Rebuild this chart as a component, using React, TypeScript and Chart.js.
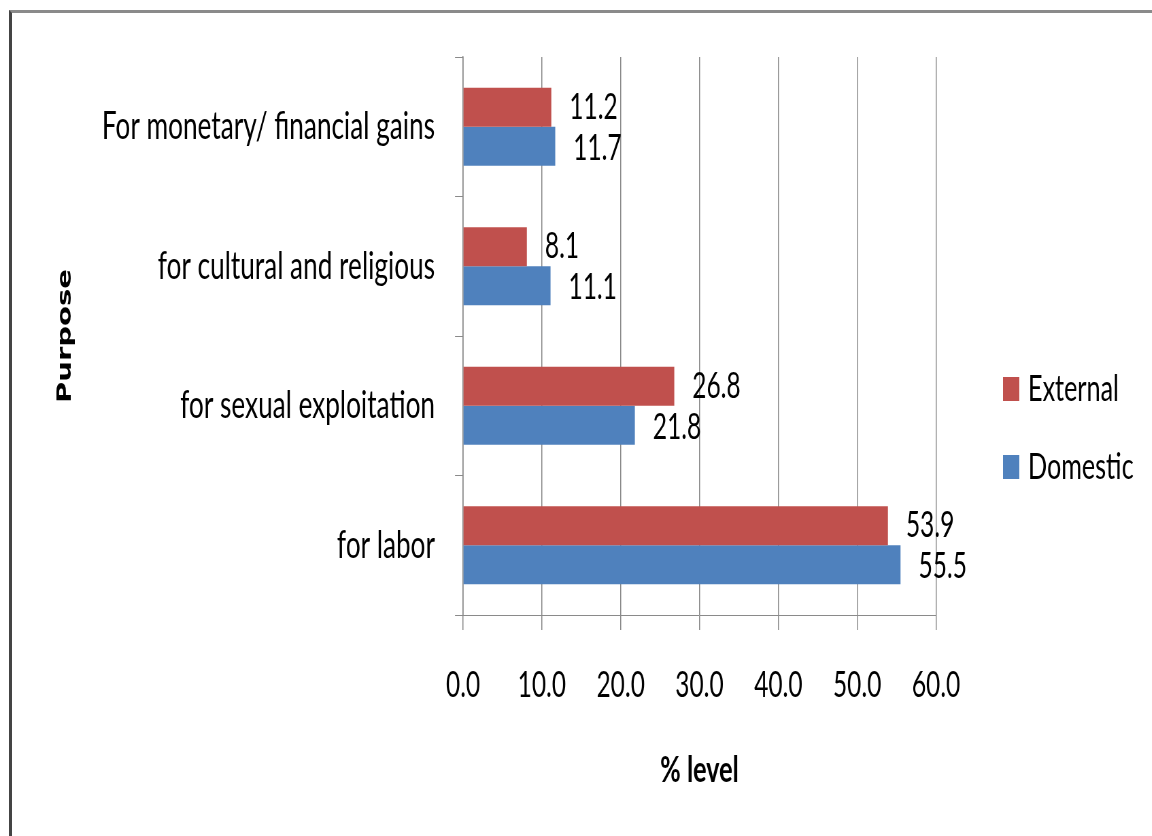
import React, { useEffect, useRef } from "react";
import { Chart, registerables } from "chart.js";

Chart.register(...registerables);

const categories = [
  "For monetary/ financial gains",
  "for cultural and religious",
  "for sexual exploitation",
  "for labor",
];
const seriesNames = ["External", "Domestic"];
const externalValues = [11.2, 8.1, 26.8, 53.9];
const domesticValues = [11.7, 11.1, 21.8, 55.5];
const seriesColors = ["#C0504D", "#4F81BD"];
const xMin = 0;
const xMax = 60;
const xStep = 10;
const xTitle = "% level";
const yTitle = "Purpose";

// horizontal squeeze of the whole picture (the reference text is narrow and tall)
const SX = 0.68;
const W = Math.round(1152 / SX);
const H = 836;
const FONT = 'Lato, "Open Sans", "Liberation Sans", sans-serif';
const GRID = "#8a8a8a";

const valueLabelPlugin = {
  id: "valueLabels",
  afterDatasetsDraw(chart: any) {
    const ctx = chart.ctx;
    chart.data.datasets.forEach((ds: any, i: number) => {
      const meta = chart.getDatasetMeta(i);
      meta.data.forEach((bar: any, j: number) => {
        const v = ds.data[j];
        ctx.save();
        ctx.font = `36px ${FONT}`;
        ctx.fillStyle = "#000";
        ctx.textAlign = "left";
        ctx.textBaseline = "middle";
        ctx.fillText(Number(v).toFixed(1), bar.x + 18 / SX, bar.y + (i === 0 ? 0 : 2));
        ctx.restore();
      });
    });
  },
};

const legendPlugin = {
  id: "sideLegend",
  afterDraw(chart: any) {
    const ctx = chart.ctx;
    const area = chart.chartArea;
    const x = area.right + 67 / SX;
    const ys = [area.top + 332, area.top + 410];
    chart.data.datasets.forEach((ds: any, i: number) => {
      ctx.save();
      ctx.fillStyle = ds.backgroundColor;
      ctx.fillRect(x, ys[i] - 12, 24, 24);
      ctx.font = `37px ${FONT}`;
      ctx.fillStyle = "#000";
      ctx.textAlign = "left";
      ctx.textBaseline = "middle";
      ctx.fillText(ds.label, x + 25 / SX, ys[i]);
      ctx.restore();
    });
  },
};

export default function App() {
  const ref = useRef<HTMLCanvasElement | null>(null);

  useEffect(() => {
    if (!ref.current) return;
    const chart = new Chart(ref.current, {
      type: "bar",
      data: {
        labels: categories,
        datasets: [
          {
            label: seriesNames[0],
            data: externalValues,
            backgroundColor: seriesColors[0],
            barPercentage: 1,
            categoryPercentage: 0.56,
          },
          {
            label: seriesNames[1],
            data: domesticValues,
            backgroundColor: seriesColors[1],
            barPercentage: 1,
            categoryPercentage: 0.56,
          },
        ],
      },
      options: {
        indexAxis: "y",
        animation: false,
        responsive: false,
        layout: { padding: { left: 0, right: W - 936 / SX, top: 57, bottom: 0 } },
        plugins: {
          legend: { display: false },
          tooltip: { enabled: false },
        },
        scales: {
          x: {
            type: "linear",
            position: "bottom",
            min: xMin,
            max: xMax,
            ticks: {
              stepSize: xStep,
              callback: (v: any) => Number(v).toFixed(1),
              font: { family: FONT, size: 36 },
              color: "#000",
              padding: 34,
            },
            grid: { color: GRID, tickLength: 15, lineWidth: 1.5 },
            border: { color: GRID, width: 1 },
            title: {
              display: true,
              text: xTitle,
              color: "#000",
              font: { family: FONT, size: 37, weight: "bold" },
              padding: { top: 0, bottom: 44 },
            },
            afterFit: (s: any) => {
              s.height = H - 615;
            },
          },
          y: {
            type: "category",
            ticks: {
              font: { family: FONT, size: 38.5 },
              color: "#000",
              padding: 20 / SX,
            },
            grid: {
              offset: true,
              drawOnChartArea: false,
              tickLength: 8 / SX,
              color: GRID,
              lineWidth: 1,
            },
            border: { color: GRID, width: 1.5 },
            title: {
              display: true,
              text: yTitle,
              color: "#000",
              font: { family: '"DejaVu Sans", sans-serif', size: 29, weight: "bold" },
              padding: { top: 79, bottom: 0 },
            },
            afterFit: (s: any) => {
              s.width = 463 / SX;
            },
          },
        },
      } as any,
      plugins: [valueLabelPlugin, legendPlugin],
    });
    return () => chart.destroy();
  }, []);

  return (
    <div
      style={{
        position: "absolute",
        left: 0,
        top: 0,
        width: 1152,
        height: 836,
        overflow: "hidden",
        background: "#fff",
      }}
    >
      <canvas
        ref={ref}
        width={W}
        height={H}
        style={{
          position: "absolute",
          left: 0,
          top: 0,
          transform: `scaleX(${SX})`,
          transformOrigin: "0 0",
        }}
      />
      <div
        style={{
          position: "absolute",
          left: 9,
          top: 10,
          width: 1143,
          height: 826,
          borderTop: "3px solid #8a8a8a",
          borderLeft: "3px solid #444",
          boxSizing: "border-box",
          pointerEvents: "none",
        }}
      />
    </div>
  );
}
